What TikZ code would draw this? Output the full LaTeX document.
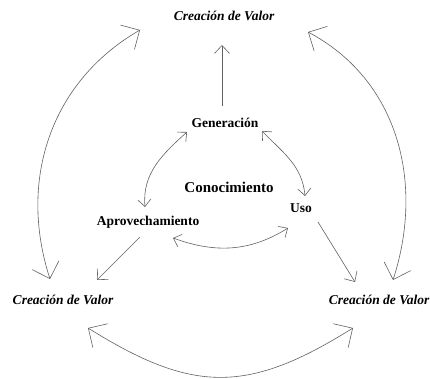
\documentclass[tikz,border=0pt]{standalone}
\usepackage{fontspec}
\setmainfont{Liberation Serif}
\usepackage{tikz}
\usetikzlibrary{arrows.meta, positioning}
\tikzset{
	lbl/.style={anchor=base, inner sep=0pt, font=\fontsize{13.5}{16}\selectfont\bfseries},
	valor/.style={lbl, font=\fontsize{13.5}{16}\selectfont\bfseries\itshape},
	link/.style={draw=black!62, line width=0.6pt},
	big/.style={link, {Straight Barb[length=14pt,width=28pt]}-{Straight Barb[length=14pt,width=28pt]}},
	small/.style={link, {Straight Barb[length=7pt,width=13pt]}-{Straight Barb[length=7pt,width=13pt]}},
	one/.style={link, -{Straight Barb[length=8pt,width=15pt]}}
}

\begin{document}
\begin{tikzpicture}[x=1pt, y=1pt]
	\useasboundingbox (0,0) rectangle (430,379);
	\node[valor] (valorT) at (224,358) {Creación de Valor};
	\node[valor] (valorL) at (63,74) {Creación de Valor};
	\node[valor] (valorR) at (379,74) {Creación de Valor};
	\node[lbl] (gen) at (225,251) {Generación};
	\node[lbl, font=\fontsize{15}{18}\selectfont\bfseries] (con) at (229,186) {Conocimiento};
	\node[lbl] (uso) at (301,166) {Uso};
	\node[lbl] (apr) at (148,153) {Aprovechamiento};

	\draw[one] ([shift={(-3,22)}]gen.base) -- ([shift={(-2,-24)}]valorT.base);
	\draw[big] ([shift={(-13,26)}]valorL.base) to[out=108, in=210] ([shift={(-84,-9)}]valorT.base);
	\draw[big] ([shift={(14,25)}]valorR.base) to[out=72, in=332] ([shift={(84,-11)}]valorT.base);
	\draw[big] ([shift={(25,-23)}]valorL.base) to[out=-32, in=212, looseness=1.2] ([shift={(-26,-23)}]valorR.base);
	\draw[small] ([shift={(-3,19)}]apr.base) to[out=95, in=222] ([shift={(-38,-4)}]gen.base);
	\draw[small] ([shift={(37,-3)}]gen.base) to[out=-46, in=95] ([shift={(4,17)}]uso.base);
	\draw[small] ([shift={(25,-12)}]apr.base) to[out=-20, in=212] ([shift={(-13,-15)}]uso.base);
	\draw[one] ([shift={(-8,-11)}]apr.base) -- ([shift={(34,25)}]valorL.base);
	\draw[one] ([shift={(17,-9)}]uso.base) -- ([shift={(-24,23)}]valorR.base);
\end{tikzpicture}
\end{document}
